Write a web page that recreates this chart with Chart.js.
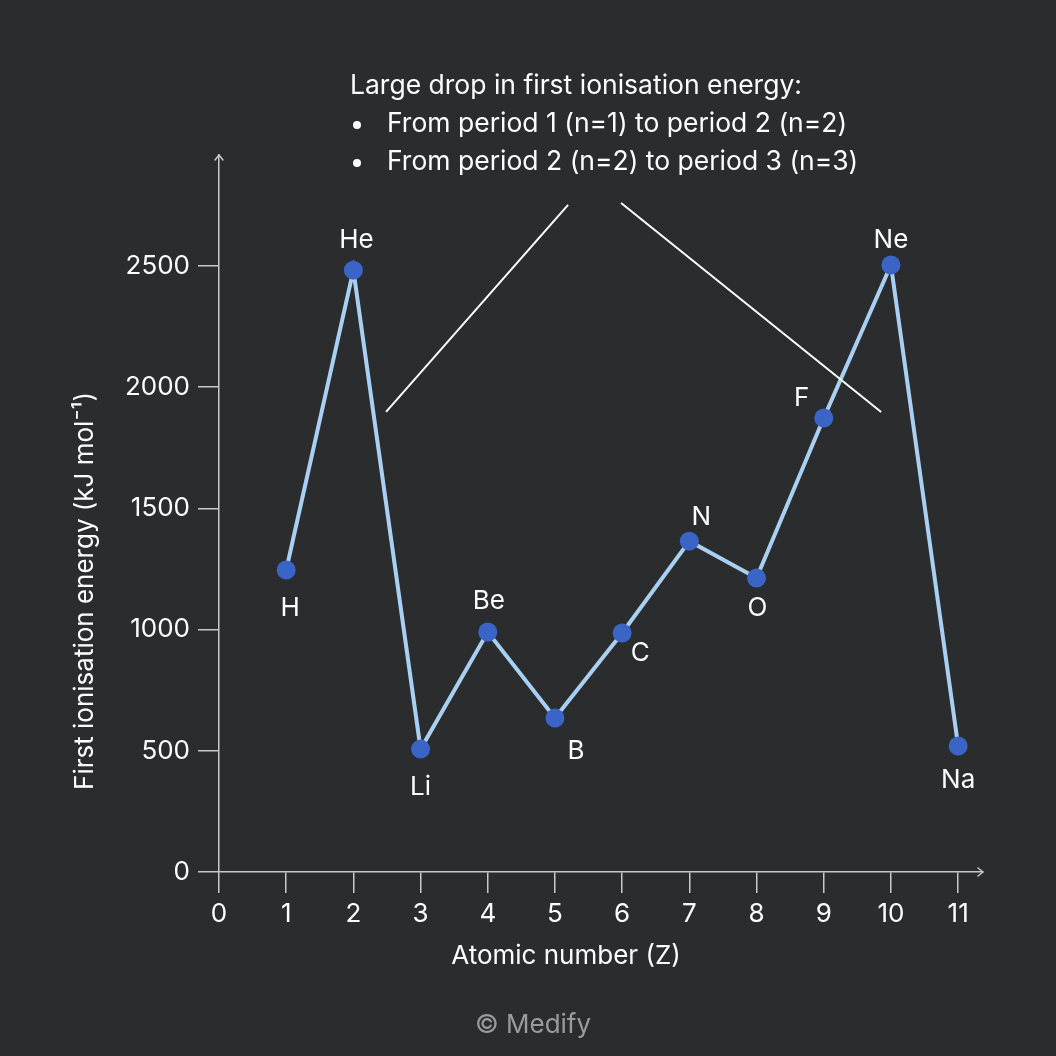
<!DOCTYPE html>
<html>
<head>
<meta charset="utf-8">
<script src="https://cdn.jsdelivr.net/npm/chart.js@4.4.1/dist/chart.umd.min.js"></script>
<style>
  html, body { margin: 0; padding: 0; background: #2b2c2e; }
  #wrap { width: 1056px; height: 1056px; position: relative; }
</style>
</head>
<body>
<div id="wrap"><canvas id="c" width="1056" height="1056"></canvas></div>
<script>
// ---- data ----
const atomicNumbers = [1, 2, 3, 4, 5, 6, 7, 8, 9, 10, 11];
const elements = ['H', 'He', 'Li', 'Be', 'B', 'C', 'N', 'O', 'F', 'Ne', 'Na'];
const ionisationEnergy = [1246, 2483, 507, 990, 635, 986, 1365, 1213, 1873, 2504, 520];
const xTickValues = [0, 1, 2, 3, 4, 5, 6, 7, 8, 9, 10, 11];
const yTickValues = [0, 500, 1000, 1500, 2000, 2500];
const xTitle = 'Atomic number (Z)';
const yTitle = 'First ionisation energy (kJ mol⁻¹)';
const noteLines = ['Large drop in first ionisation energy:', 'From period 1 (n=1) to period 2 (n=2)', 'From period 2 (n=2) to period 3 (n=3)'];
// pointer lines of the note, in data units [x1, y1, x2, y2]
const pointerA = [5.195, 2752, 2.486, 1898];
const pointerB = [5.984, 2760, 9.854, 1898];

// ---- style ----
const FONT = 'Inter, "Liberation Sans", sans-serif';
const AXIS = '#c9c9c9';
const labelOffsets = [[4, 38], [3, -30], [0, 38], [1, -31], [21, 33], [18, 20], [12, -24], [1, 30], [-22, -20], [0, -25], [0, 34]];

const points = atomicNumbers.map((z, i) => ({ x: z, y: ionisationEnergy[i] }));

const decor = {
  id: 'decor',
  afterDraw(chart) {
    const { ctx, scales: { x, y }, chartArea } = chart;
    ctx.save();
    // arrow heads
    ctx.strokeStyle = AXIS; ctx.lineWidth = 1.5; ctx.lineCap = 'round'; ctx.lineJoin = 'round';
    ctx.beginPath();
    ctx.moveTo(chartArea.left - 4, chartArea.top + 5);
    ctx.lineTo(chartArea.left, chartArea.top);
    ctx.lineTo(chartArea.left + 4, chartArea.top + 5);
    ctx.moveTo(chartArea.right - 5, chartArea.bottom - 4);
    ctx.lineTo(chartArea.right, chartArea.bottom);
    ctx.lineTo(chartArea.right - 5, chartArea.bottom + 4);
    ctx.stroke();

    // element labels
    ctx.fillStyle = '#ffffff';
    ctx.font = '26px ' + FONT;
    ctx.textAlign = 'center'; ctx.textBaseline = 'middle';
    const meta = chart.getDatasetMeta(0);
    meta.data.forEach((pt, i) => {
      ctx.fillText(elements[i], pt.x + labelOffsets[i][0], pt.y + labelOffsets[i][1]);
    });

    // axis titles
    ctx.font = '26px ' + FONT;
    ctx.fillText(xTitle, 566, 956);
    ctx.save();
    ctx.translate(85, 591);
    ctx.rotate(-Math.PI / 2);
    ctx.fillText(yTitle, 0, 0);
    ctx.restore();

    // pointer lines
    ctx.strokeStyle = '#ffffff'; ctx.lineWidth = 2; ctx.lineCap = 'butt';
    [pointerA, pointerB].forEach(p => {
      ctx.beginPath();
      ctx.moveTo(x.getPixelForValue(p[0]), y.getPixelForValue(p[1]));
      ctx.lineTo(x.getPixelForValue(p[2]), y.getPixelForValue(p[3]));
      ctx.stroke();
    });

    // note text
    ctx.textAlign = 'left'; ctx.textBaseline = 'middle';
    ctx.font = '26.5px ' + FONT;
    ctx.fillText(noteLines[0], 350, 86);
    ctx.fillText(noteLines[1], 387, 124);
    ctx.fillText(noteLines[2], 387, 162);
    ctx.beginPath(); ctx.arc(357, 125, 4, 0, Math.PI * 2); ctx.fill();
    ctx.beginPath(); ctx.arc(357, 163, 4, 0, Math.PI * 2); ctx.fill();

    // credit
    ctx.fillStyle = '#9b9b9b';
    ctx.textAlign = 'center';
    ctx.font = '26px ' + FONT;
    ctx.fillText('© Medify', 533, 1025);
    ctx.restore();
  }
};

new Chart(document.getElementById('c'), {
  type: 'line',
  data: {
    datasets: [{
      data: points,
      borderColor: '#a9cff2',
      borderWidth: 4,
      pointRadius: 9.5,
      pointHoverRadius: 9.5,
      pointBackgroundColor: '#3a64c6',
      pointBorderWidth: 0,
      tension: 0,
      fill: false
    }]
  },
  options: {
    responsive: false,
    devicePixelRatio: 1,
    animation: false,
    events: [],
    layout: { padding: { left: 0, top: 155, right: 73, bottom: 0 } },
    plugins: { legend: { display: false }, tooltip: { enabled: false } },
    scales: {
      x: {
        type: 'linear', min: 0, max: 11.37,
        afterFit(s) { s.height = 184; },
        afterBuildTicks(s) { s.ticks = xTickValues.map(v => ({ value: v })); },
        grid: { display: true, drawOnChartArea: false, drawTicks: true, tickLength: 21, color: AXIS, lineWidth: 1.5 },
        border: { display: true, color: AXIS, width: 1.5 },
        ticks: { color: '#ffffff', font: { family: FONT, size: 26 }, padding: 6, maxRotation: 0, autoSkip: false, callback: v => String(v) },
        title: { display: false }
      },
      y: {
        type: 'linear', min: 0, max: 2958,
        afterFit(s) { s.width = 219; },
        afterBuildTicks(s) { s.ticks = yTickValues.map(v => ({ value: v })); },
        grid: { display: true, drawOnChartArea: false, drawTicks: true, tickLength: 21, color: AXIS, lineWidth: 1.5 },
        border: { display: true, color: AXIS, width: 1.5 },
        ticks: { color: '#ffffff', font: { family: FONT, size: 26 }, padding: 8, autoSkip: false, callback: v => String(v) },
        title: { display: false }
      }
    }
  },
  plugins: [decor]
});
</script>
</body>
</html>
